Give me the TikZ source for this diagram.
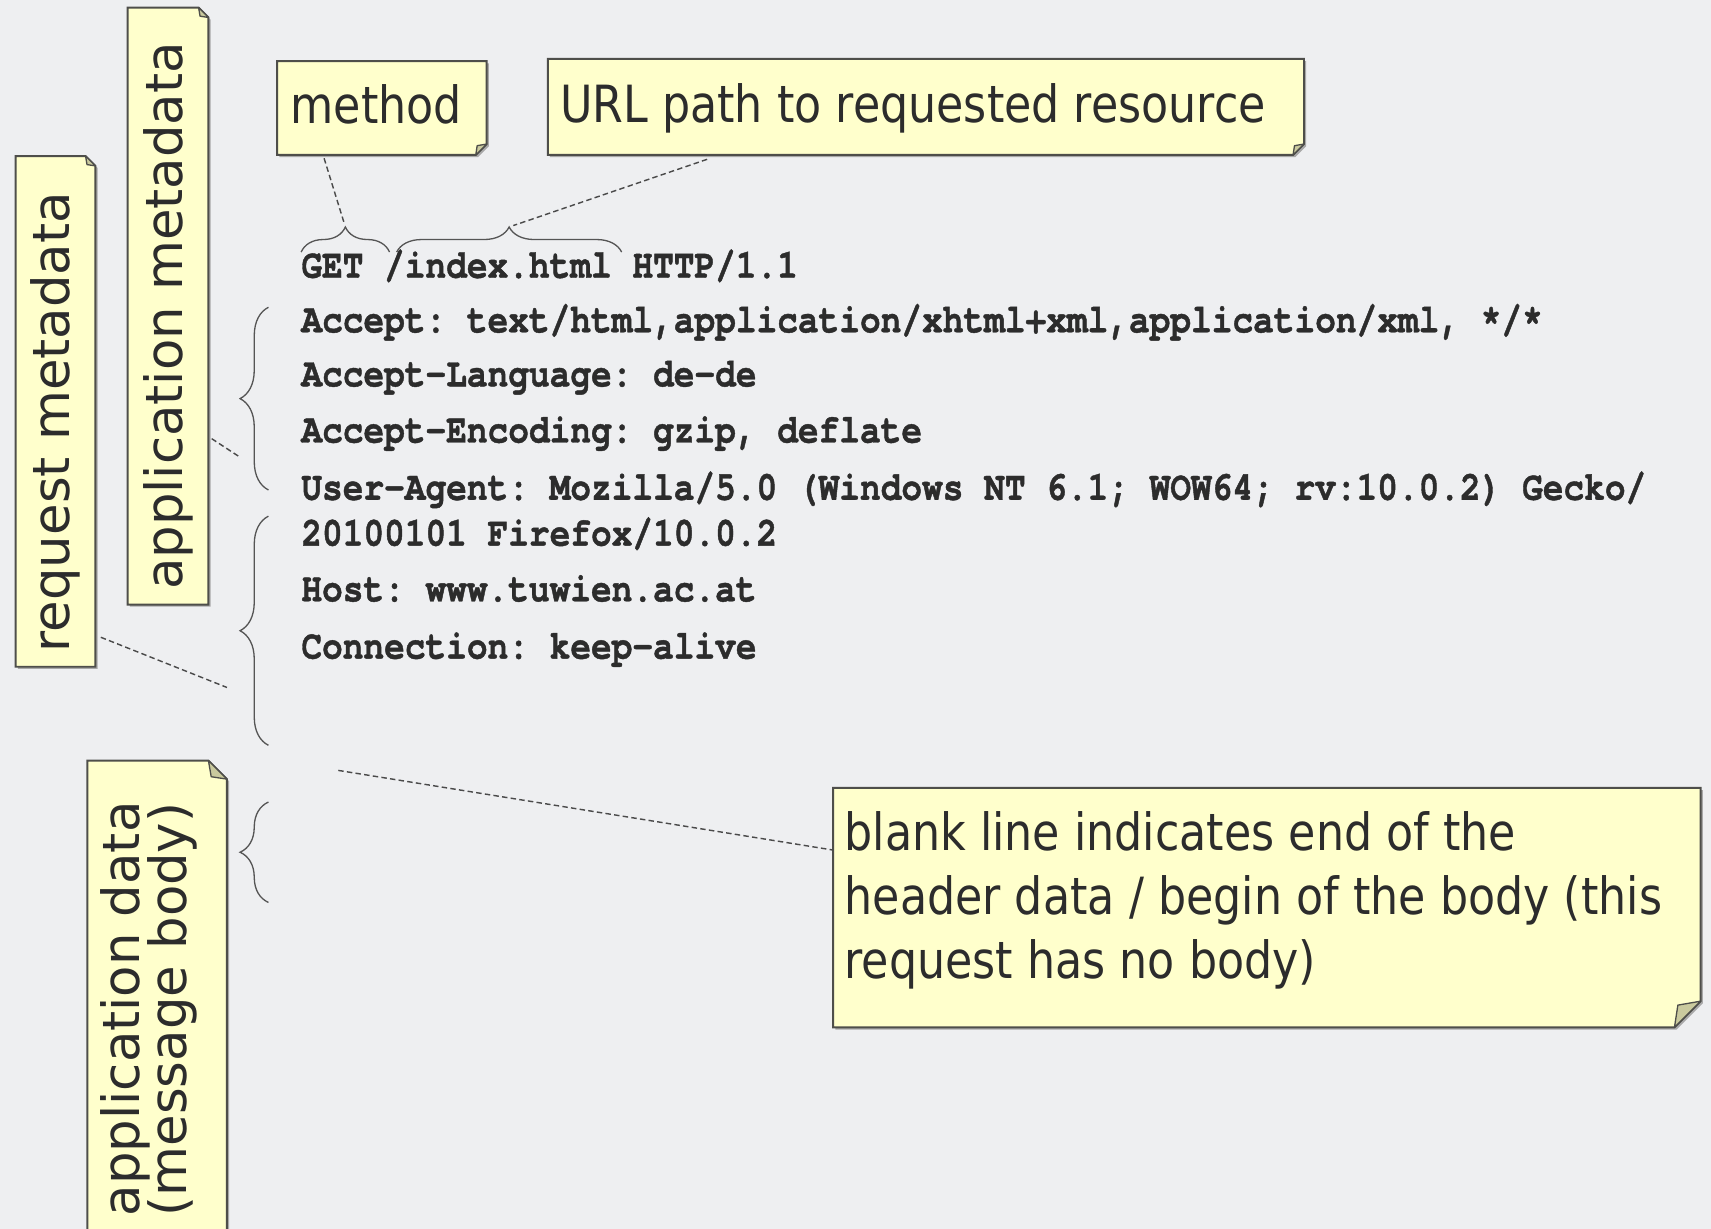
\documentclass[tikz,border=0pt]{standalone}
\usepackage{fontspec}
\usetikzlibrary{decorations.pathreplacing}

\newfontfamily\notefont{DejaVu Sans}[FakeStretch=0.865]
\newfontfamily\sidefont{DejaVu Sans}
\newfontfamily\codefont{texgyrecursor}[Extension=.otf, UprightFont=*-regular,
  BoldFont=*-bold, BoldFeatures={FakeBold=1}, FakeStretch=0.845,
  Ligatures=NoCommon]

\definecolor{pagebg}{HTML}{EEEFF1}
\definecolor{notebg}{HTML}{FFFFCC}
\definecolor{noteedge}{HTML}{4E4E4A}
\definecolor{noteflapfill}{HTML}{CACA9E}
\definecolor{noteshade}{HTML}{A8A8A8}
\definecolor{inktext}{HTML}{2C2C2C}
\definecolor{bracegray}{HTML}{555555}
\definecolor{leadergray}{HTML}{4A4A4A}

\tikzset{
  notebox/.style={inner sep=0pt, outer sep=0pt, anchor=north west},
  noteshape/.style={fill=notebg, draw=noteedge, line width=0.9pt, line join=miter},
  noteshadow/.style={fill=noteshade},
  noteflap/.style={fill=noteflapfill, draw=noteedge, line width=0.6pt, line join=round},
  notetext/.style={inner sep=0pt, anchor=base west, text=inktext,
    font=\notefont\fontsize{23.5}{28}\selectfont},
  sidetext/.style={inner sep=0pt, anchor=base west, rotate=90, text=inktext,
    font=\sidefont\fontsize{23.5}{28}\selectfont},
  codeline/.style={inner sep=0pt, anchor=base west, text=inktext,
    font=\codefont\bfseries\fontsize{18.7}{22}\selectfont\frenchspacing},
  bracemark/.style={draw=bracegray, line width=0.6pt, decorate,
    decoration={brace, amplitude=#1}},
  leader/.style={draw=leadergray, line width=0.65pt, dash pattern=on 2.5pt off 1.5pt},
}

% sticky note outline with the dog-ear at the lower right corner
\newcommand\foldSE[2]{%
  \fill[noteshadow, transform canvas={shift={(1pt,-1pt)}}]
    (#1.north west) -- (#1.north east) -- ([yshift=#2]#1.south east)
    -- ([xshift=-#2]#1.south east) -- (#1.south west) -- cycle;
  \filldraw[noteshape]
    (#1.north west) -- (#1.north east) -- ([yshift=#2]#1.south east)
    -- ([xshift=-#2]#1.south east) -- (#1.south west) -- cycle;
  \filldraw[noteflap]
    ([yshift=#2]#1.south east) -- ([xshift=-#2]#1.south east)
    -- ([xshift=-0.87*#2, yshift=0.85*#2]#1.south east) -- cycle;}

% sticky note outline with the dog-ear at the upper right corner
\newcommand\foldNE[2]{%
  \fill[noteshadow, transform canvas={shift={(1pt,-1pt)}}]
    (#1.south west) -- (#1.north west) -- ([xshift=-#2]#1.north east)
    -- ([yshift=-#2]#1.north east) -- (#1.south east) -- cycle;
  \filldraw[noteshape]
    (#1.south west) -- (#1.north west) -- ([xshift=-#2]#1.north east)
    -- ([yshift=-#2]#1.north east) -- (#1.south east) -- cycle;
  \filldraw[noteflap]
    ([xshift=-#2]#1.north east) -- ([yshift=-#2]#1.north east)
    -- ([xshift=-0.85*#2, yshift=-0.87*#2]#1.north east) -- cycle;}

\begin{document}
\begin{tikzpicture}[x=0.5pt, y=-0.5pt]
\useasboundingbox (0,0) rectangle (1568,1126);
\fill[pagebg] (0,0) rectangle (1568,1126);
\clip (0,0) rectangle (1568,1126);

% ---- notes above the request line
\node[notebox, minimum width=96pt, minimum height=43pt] (method) at (254,56) {};
\foldSE{method}{5pt}
\node[notetext] (methodtext) at (266,113.6) {method};

\node[notebox, minimum width=346.5pt, minimum height=44pt] (url) at (502,54) {};
\foldSE{url}{5pt}
\node[notetext] (urltext) at (512.8,112.5) {URL path to requested resource};

% ---- note about the empty line
\node[notebox, minimum width=397.5pt, minimum height=109.75pt] (blank) at (763.5,722) {};
\foldSE{blank}{12pt}
\node[notetext] (blank1) at (773.6,779.6) {blank line indicates end of the};
\node[notetext] (blank2) at (773.6,838) {header data / begin of the body (this};
\node[notetext] (blank3) at (773.6,896.6) {request has no body)};

% ---- vertical notes on the left
\node[notebox, minimum width=36.5pt, minimum height=234pt] (reqmeta) at (14.4,143) {};
\foldNE{reqmeta}{4.5pt}
\node[sidetext] (reqtext) at (64,598) {request metadata};

\node[notebox, minimum width=37pt, minimum height=273.5pt] (appmeta) at (117,7) {};
\foldNE{appmeta}{4.5pt}
\node[sidetext] (appmetatext) at (167,541) {application metadata};

\node[notebox, minimum width=64pt, minimum height=230pt] (appdata) at (80,697) {};
\foldNE{appdata}{8.5pt}
\node[sidetext] (appdata1) at (128,1115) {application data};
\node[sidetext] (appdata2) at (171,1115) {(message body)};

% ---- the HTTP request
\node[codeline] (l0) at (275.8,254.5) {GET /index.html HTTP/1.1};
\node[codeline] (l1) at (275.8,304.5) {Accept: text/html,application/xhtml+xml,application/xml, */*};
\node[codeline] (l2) at (275.8,354) {Accept-Language: de-de};
\node[codeline] (l3) at (275.8,405.5) {Accept-Encoding: gzip, deflate};
\node[codeline] (l4) at (275.8,458) {User-Agent: Mozilla/5.0 (Windows NT 6.1; WOW64; rv:10.0.2) Gecko/};
\node[codeline] (l5) at (275.8,500) {20100101 Firefox/10.0.2};
\node[codeline] (l6) at (275.8,551) {Host: www.tuwien.ac.at};
\node[codeline] (l7) at (275.8,603.5) {Connection: keep-alive};

% ---- braces
\draw[bracemark=11.5pt] (276,231) -- (357,231);
\coordinate (getTip) at (316.5,208);
\draw[bracemark=11.5pt] (363.5,231) -- (569.7,231);
\coordinate (pathTip) at (466.6,208);

\draw[bracemark=13pt] (246,449) -- (246,281.6);
\draw[bracemark=13pt] (246,683) -- (246,473);
\draw[bracemark=13pt] (246,827) -- (246,735);

% ---- dashed leaders
\draw[leader, shorten >=2pt] ([xshift=21.5pt, yshift=-1.5pt]method.south west) -- (getTip);
\draw[leader, shorten >=2pt] ([xshift=73pt, yshift=-2pt]url.south west) -- (pathTip);
\coordinate (appmetaEnd) at (220,419);
\draw[leader] ([xshift=1.5pt, yshift=76pt]appmeta.south east) -- (appmetaEnd);
\coordinate (reqEnd) at (208,630);
\draw[leader] ([xshift=2.5pt, yshift=13.5pt]reqmeta.south east) -- (reqEnd);
\coordinate (blankStart) at (310,706);
\draw[leader] (blankStart) -- ([yshift=-28.5pt]blank.north west);
\end{tikzpicture}
\end{document}
